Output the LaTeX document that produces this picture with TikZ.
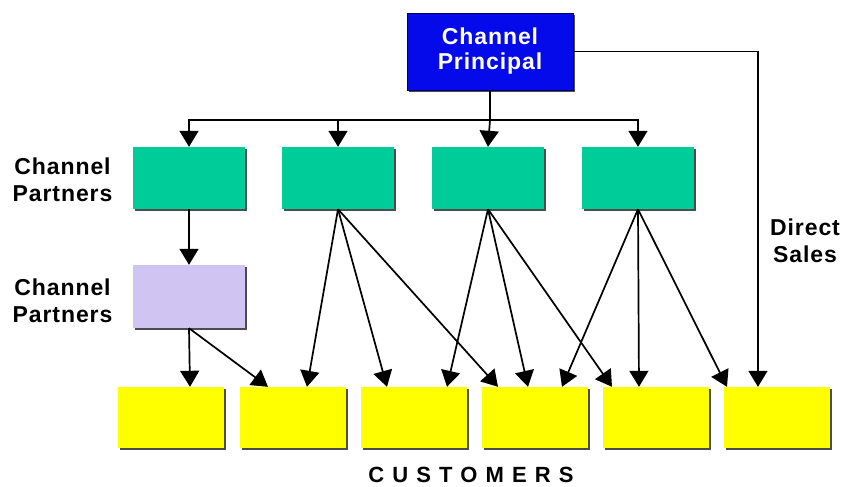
\documentclass[tikz,border=0pt]{standalone}
\usepackage{fontspec}
\setmainfont{Liberation Sans}
\usetikzlibrary{arrows.meta,calc,shadows}
\definecolor{pgreen}{RGB}{0,204,153}
\definecolor{pblue}{RGB}{5,10,235}
\definecolor{plav}{RGB}{208,196,242}
\definecolor{pyellow}{RGB}{255,255,0}
\begin{document}
\begin{tikzpicture}[x=1pt,y=-1pt,
  lbl/.style={align=center,font=\bfseries\fontsize{23}{27}\selectfont\addfontfeature{LetterSpace=4},inner sep=0pt},
  boxbase/.style={draw=none,inner sep=0pt,
    drop shadow={shadow xshift=2pt,shadow yshift=-2pt,fill=black!70,opacity=1}},
  greenbox/.style={boxbase,fill=pgreen,minimum width=112pt,minimum height=62pt},
  lavbox/.style={boxbase,fill=plav,minimum width=112pt,minimum height=63pt},
  yelbox/.style={boxbase,fill=pyellow,minimum width=106pt,minimum height=61pt},
  bluebox/.style={boxbase,fill=pblue,draw=blue!40!black,line width=0.8pt,minimum width=166pt,minimum height=77pt,
    text=white,align=center,font=\bfseries\fontsize{23}{25}\selectfont\addfontfeature{LetterSpace=4}},
  arr/.style={line width=1.7pt,-{Triangle[width=19pt,length=16pt]}},
  ln/.style={line width=1.7pt}]
\useasboundingbox (0,0) rectangle (841,487);
\fill[white] (0,0) rectangle (841,487);

\node[bluebox] (p) at (490,51.5) {Channel\\Principal};

\node[greenbox] (g1) at (189,178) {};
\node[greenbox] (g2) at (338,178) {};
\node[greenbox] (g3) at (488,178) {};
\node[greenbox] (g4) at (638,178) {};

\node[lavbox] (l) at (189,296.5) {};

\node[yelbox] (y1) at (171,417.5) {};
\node[yelbox] (y2) at (293,417.5) {};
\node[yelbox] (y3) at (414,417.5) {};
\node[yelbox] (y4) at (534.5,417.5) {};
\node[yelbox] (y5) at (655.5,417.5) {};
\node[yelbox] (y6) at (777,417.5) {};

\node[lbl] (t1) at (62.5,180) {Channel\\Partners};
\node[lbl] (t2) at (62.5,301) {Channel\\Partners};
\node[lbl] (t3) at (805,241) {Direct\\Sales};
\node[inner sep=0pt,font=\bfseries\fontsize{22}{24}\selectfont\addfontfeature{LetterSpace=37}] (cu) at (471,475) {CUSTOMERS};

\coordinate (bus) at (490,120);
\draw[ln] (p.south) -- (bus);
\draw[arr] (bus) -| (g1.north);
\draw[arr] (bus) -| (g2.north);
\draw[arr] (bus) -- (g3.north);
\draw[arr] (bus) -| (g4.north);
\draw[arr] (p.east) -| ([xshift=-19pt]y6.north);

\draw[arr] (g1.south) -- (l.north);
\draw[arr] (l.south) -- ([xshift=19pt]y1.north);
\draw[arr] (l.south) -- ([xshift=-25pt]y2.north);

\draw[arr] (g2.south) -- ([xshift=14pt]y2.north);
\draw[arr] (g2.south) -- ([xshift=-27pt]y3.north);
\draw[arr] (g2.south) -- ([xshift=-36.5pt]y4.north);

\draw[arr] (g3.south) -- ([xshift=33pt]y3.north);
\draw[arr] (g3.south) -- ([xshift=-6.5pt]y4.north);
\draw[arr] (g3.south) -- ([xshift=-43.5pt]y5.north);

\draw[arr] (g4.south) -- ([xshift=27.5pt]y4.north);
\draw[arr] (g4.south) -- ([xshift=-16.5pt]y5.north);
\draw[arr] (g4.south) -- ([xshift=-50pt]y6.north);
\end{tikzpicture}
\end{document}
